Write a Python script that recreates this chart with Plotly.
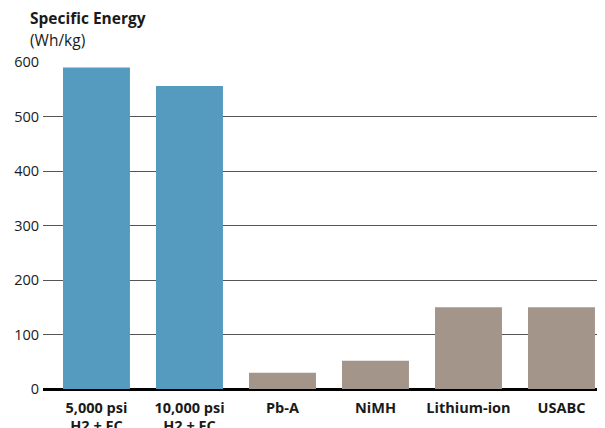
import plotly.graph_objects as go

categories = ["5,000 psi<br>H2 + FC", "10,000 psi<br>H2 + FC", "Pb-A", "NiMH", "Lithium-ion", "USABC"]
values = [590, 556, 30, 52, 150, 150]
colors = ["#559BBF", "#559BBF", "#A39589", "#A39589", "#A39589", "#A39589"]
y_ticks = [0, 100, 200, 300, 400, 500, 600]

# page body has an 8px margin; offset layout to compensate
OFF = 8
L, T = 43 - OFF, 62 - OFF
B = 428 - (389 - OFF)
PW = 605 - L
PH = 327

fig = go.Figure(go.Bar(
    x=list(range(len(categories))),
    y=values,
    marker=dict(color=colors, line=dict(width=0)),
    width=0.72,
    hoverinfo="skip",
))

fig.update_layout(
    width=605, height=428,
    margin=dict(l=L, r=0, t=T, b=B, autoexpand=False),
    paper_bgcolor="white", plot_bgcolor="white",
    showlegend=False,
    font=dict(family="Open Sans", color="#1a1a1a"),
    xaxis=dict(
        range=[-0.575, -0.575 + PW / 93],
        tickmode="array",
        tickvals=list(range(len(categories))),
        ticktext=[f"<b>{c}</b>" for c in categories],
        tickfont=dict(size=14.5, color="#1a1a1a"),
        showgrid=False, zeroline=False, showline=False,
        ticks="", ticklabelstandoff=8, automargin=False,
    ),
    yaxis=dict(
        range=[0, 600],
        tickmode="array",
        tickvals=y_ticks,
        tickfont=dict(size=14.5, color="#1a1a1a"),
        showgrid=True, gridcolor="#555555", gridwidth=1.4,
        zeroline=True, zerolinecolor="#000000", zerolinewidth=3,
        showline=False, ticks="", ticklabelstandoff=3, automargin=False,
    ),
    annotations=[
        dict(text="<b>Specific Energy</b>", xref="paper", yref="paper",
             x=-15 / PW, y=1 + (62 - 18) / PH, xanchor="left", yanchor="middle",
             showarrow=False, font=dict(size=15.5, color="#1a1a1a")),
        dict(text="(Wh/kg)", xref="paper", yref="paper",
             x=-15 / PW, y=1 + (62 - 40) / PH, xanchor="left", yanchor="middle",
             showarrow=False, font=dict(size=15.5, color="#1a1a1a")),
    ],
)

fig.write_html("out.html")
